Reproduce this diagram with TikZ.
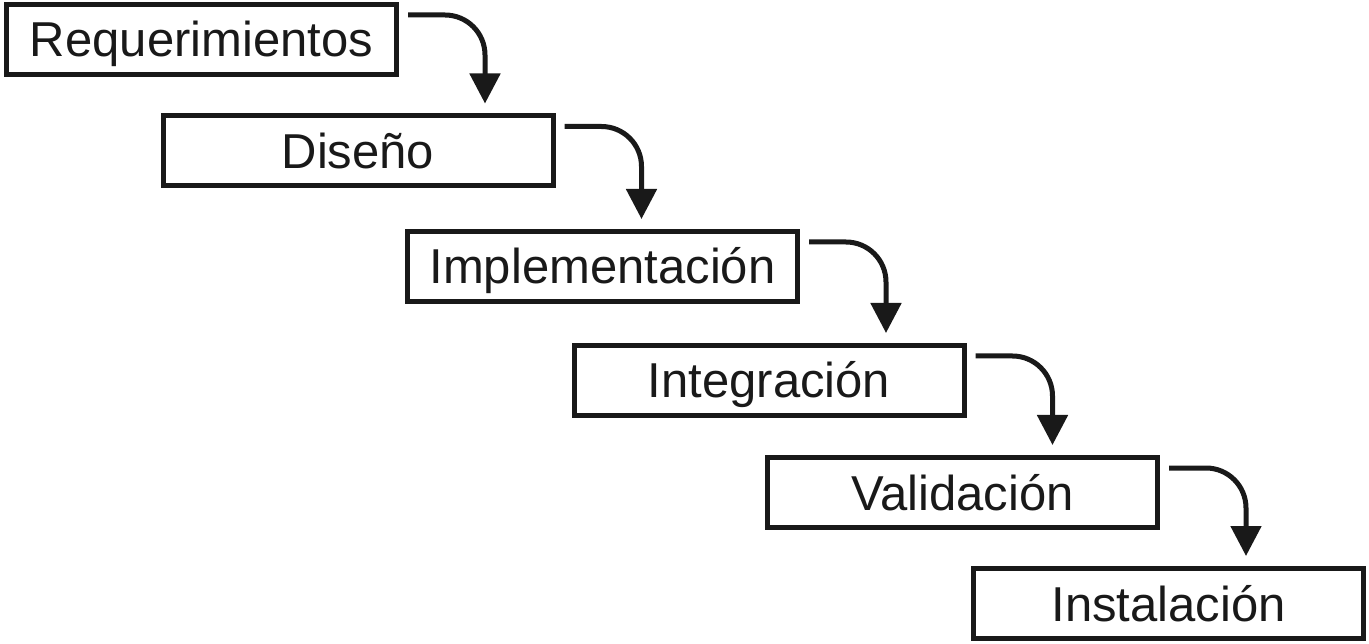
\documentclass[tikz,border=0pt]{standalone}
\usepackage{fontspec}
\setmainfont{Liberation Sans}
\usetikzlibrary{arrows.meta,calc}
\begin{document}
\begin{tikzpicture}[x=1pt,y=-1pt,
  stagebox/.style={draw=black!90, line width=5pt, minimum width=390pt, minimum height=70pt,
    inner sep=0pt, font=\fontsize{49}{55}\selectfont, text height=35pt, text depth=0pt, text=black!90},
  flowarrow/.style={draw=black!90, line width=5pt, rounded corners=40pt,
    -{Triangle[length=30pt,width=30pt]}}]
\useasboundingbox (0,0) rectangle (1369,644);
\node[stagebox] (r1) at (201.5,39.5) {Requerimientos};
\node[stagebox] (r2) at (358,151) {Diseño};
\node[stagebox] (r3) at (602.5,266.5) {Implementación};
\node[stagebox] (r4) at (769,380.5) {Integración};
\node[stagebox] (r5) at (962.5,492.5) {Validación};
\node[stagebox] (r6) at (1168.5,603.5) {Instalación};
\foreach \a/\b in {r1/r2,r2/r3,r3/r4,r4/r5,r5/r6}{
  \coordinate (s-\a) at ($(\a.north east)+(9,13)$);
  \coordinate (e-\a) at ($(\a.north east)+(86,0)$);
  \coordinate (t-\a) at ($(e-\a |- \b.north)+(0,-10)$);
  \draw[flowarrow] (s-\a) -| (t-\a);
}
\end{tikzpicture}
\end{document}
